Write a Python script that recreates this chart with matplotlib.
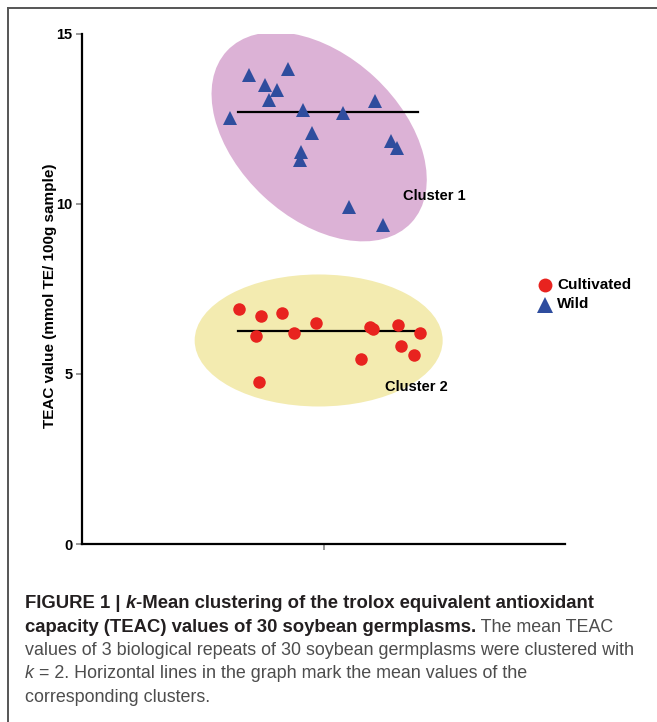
import matplotlib
matplotlib.use("Agg")
import matplotlib.pyplot as plt
import matplotlib.transforms as mtransforms
from matplotlib.patches import Ellipse
from matplotlib.lines import Line2D

plt.rcParams['font.family'] = ['Liberation Sans', 'DejaVu Sans']

# ---------------- data ----------------
wild_x = [0.693, 0.854, 0.758, 0.806, 0.774, 0.916, 1.082, 1.213, 0.613, 0.951,
          0.906, 0.903, 1.278, 1.303, 1.107, 1.245]
wild_y = [13.79, 13.96, 13.50, 13.35, 13.04, 12.76, 12.67, 13.01, 12.52, 12.08,
          11.52, 11.29, 11.83, 11.64, 9.90, 9.38]
cult_x = [0.651, 0.740, 0.827, 0.720, 0.878, 0.968, 1.193, 1.206, 1.307, 1.400,
          1.322, 1.376, 1.154, 0.733]
cult_y = [6.91, 6.71, 6.79, 6.12, 6.20, 6.49, 6.39, 6.31, 6.44, 6.20,
          5.82, 5.56, 5.45, 4.76]
cluster_means = [12.68, 6.27]
mean_x_range = [0.645, 1.39]
cluster_labels = ["Cluster 1", "Cluster 2"]
y_ticks = [0, 5, 10, 15]
legend_labels = ["Cultivated", "Wild"]
ylabel = "TEAC value (mmol TE/ 100g sample)"

W, H = 657, 722
fig = plt.figure(figsize=(W / 100, H / 100), dpi=100)
ax = fig.add_axes([82 / W, 1 - 544 / H, (565 - 82) / W, (544 - 33.5) / H])
ax.set_xlim(0, 2)
ax.set_ylim(0, 15)

# ellipses (sizes in pixels)
def px_ellipse(xc, yc, w, h, ang, color):
    tr = mtransforms.Affine2D() + mtransforms.ScaledTranslation(xc, yc, ax.transData)
    e = Ellipse((0, 0), w, h, angle=ang, transform=tr, facecolor=color,
                edgecolor='none', zorder=1)
    ax.add_patch(e)

px_ellipse(0.982, 11.965, 252, 163, -43, '#dcb2d6')
px_ellipse(0.980, 5.98, 248, 132, 0, '#f3ebb0')

ax.plot(mean_x_range, [cluster_means[0]] * 2, color='black', lw=1.6, zorder=2)
ax.plot(mean_x_range, [cluster_means[1]] * 2, color='black', lw=1.6, zorder=2)

ax.plot(wild_x, wild_y, linestyle='none', marker='^', ms=10.5, color='#2f4d9e',
        markeredgewidth=0, zorder=3)
ax.plot(cult_x, cult_y, linestyle='none', marker='o', ms=9, color='#e8231f',
        markeredgewidth=0, zorder=3)

ax.text(1.330, 10.23, cluster_labels[0], fontsize=10.5, fontweight='bold',
        va='center', ha='left')
ax.text(1.255, 4.62, cluster_labels[1], fontsize=10.5, fontweight='bold',
        va='center', ha='left')

for s in ['top', 'right']:
    ax.spines[s].set_visible(False)
for s in ['left', 'bottom']:
    ax.spines[s].set_linewidth(1.6)
    ax.spines[s].set_color('black')
ax.set_yticks(y_ticks)
ax.set_yticklabels([str(t) for t in y_ticks], fontsize=10.5, fontweight='bold')
ax.set_xticks([1])
ax.set_xticklabels([''])
ax.tick_params(axis='both', color='#888888', length=4, width=1.2, pad=3)
ax.set_ylabel(ylabel, fontsize=11, fontweight='bold')
ax.yaxis.set_label_coords(-0.052, 0.487)

# legend (manual)
fig.add_artist(Line2D([545 / W], [1 - 285 / H], marker='o', ms=10, color='#e8231f',
                      markeredgewidth=0, linestyle='none'))
fig.add_artist(Line2D([545 / W], [1 - 304.5 / H], marker='^', ms=11, color='#2f4d9e',
                      markeredgewidth=0, linestyle='none'))
fig.text(557 / W, 1 - 285 / H, legend_labels[0], fontsize=11, fontweight='bold', va='center')
fig.text(557 / W, 1 - 304.5 / H, legend_labels[1], fontsize=11, fontweight='bold', va='center')

# border (top and left)
fig.add_artist(Line2D([8 / W, 8 / W], [0, 1 - 8 / H], color='#555555', lw=1.4))
fig.add_artist(Line2D([8 / W, 1], [1 - 8 / H, 1 - 8 / H], color='#555555', lw=1.4))

# caption
fig.canvas.draw()
renderer = fig.canvas.get_renderer()
fs_bold = 13.3
fs_reg = 12.9
dark = '#231f20'
grey = '#4d4d4d'
lines = [
    [("FIGURE 1 | ", 'bold', 'normal', dark), ("k", 'bold', 'italic', dark),
     ("-Mean clustering of the trolox equivalent antioxidant", 'bold', 'normal', dark)],
    [("capacity (TEAC) values of 30 soybean germplasms.", 'bold', 'normal', dark),
     (" The mean TEAC", 'normal', 'normal', grey)],
    [("values of 3 biological repeats of 30 soybean germplasms were clustered with", 'normal', 'normal', grey)],
    [("k", 'normal', 'italic', grey), (" = 2. Horizontal lines in the graph mark the mean values of the", 'normal', 'normal', grey)],
    [("corresponding clusters.", 'normal', 'normal', grey)],
]
baselines = [608, 631.5, 655, 678.5, 702]
for segs, by in zip(lines, baselines):
    x = 25
    for txt, fw, fst, col in segs:
        fs = fs_bold if fw == 'bold' else fs_reg
        t = fig.text(x / W, 1 - by / H, txt, fontsize=fs, fontweight=fw,
                     fontstyle=fst, color=col, va='baseline', ha='left')
        bb = t.get_window_extent(renderer)
        x += bb.width

fig.savefig("out.png", dpi=100)
